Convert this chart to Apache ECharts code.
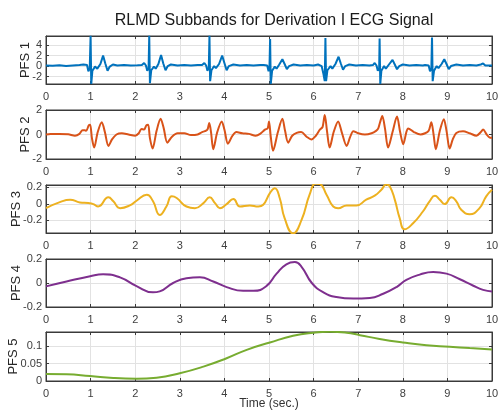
<!DOCTYPE html>
<html>
<head>
<meta charset="utf-8">
<script src="https://cdn.jsdelivr.net/npm/echarts@6/dist/echarts.min.js"></script>
<style>
  html, body { margin: 0; padding: 0; background: #fff; }
  #chart { width: 498px; height: 410px; }
</style>
</head>
<body>
<div id="chart"></div>
<script>
// x ticks (seconds)
var timeTicks = [0, 1, 2, 3, 4, 5, 6, 7, 8, 9, 10];
var panelNames = ['PFS 1', 'PFS 2', 'PFS 3', 'PFS 4', 'PFS 5'];

// PFS 1 - [time, value]
var pfs1 = [
  [0,0.1],[0.15,0.05],[0.3,0.15],[0.45,0.0],[0.6,0.1],[0.75,0.2],
  [0.84,0.3],[0.88,0.6],[0.92,0.2],[0.95,-1.0],[0.98,-0.5],[1.0,5.8],[1.015,-3.44],[1.04,-0.9],[1.1,-0.1],[1.15,-0.5],[1.22,0.4],[1.28,2.0],[1.33,0.5],[1.38,-0.9],[1.43,-0.1],[1.5,0.3],[1.6,0.1],[1.75,0.2],[1.9,0.1],[2.05,0.15],
  [2.15,0.2],[2.2,0.6],[2.24,0.1],[2.27,-0.9],[2.3,-0.4],[2.315,5.8],[2.33,-3.3],[2.36,-0.8],[2.42,-0.1],[2.46,-0.5],[2.52,0.4],[2.58,2.1],[2.63,0.5],[2.68,-0.8],[2.73,0],[2.8,0.3],[2.95,0.1],[3.1,0.2],[3.25,0.1],[3.4,0.2],
  [3.5,0.2],[3.55,0.6],[3.59,0.1],[3.62,-0.9],[3.65,-0.3],[3.665,5.8],[3.68,-2.9],[3.71,-0.8],[3.77,0],[3.81,-0.4],[3.88,0.4],[3.95,2.0],[4.0,0.6],[4.05,-0.8],[4.1,0],[4.2,0.3],[4.35,0.1],[4.5,0.2],[4.65,0.1],[4.8,0.2],
  [4.88,0.2],[4.92,0.5],[4.96,0.1],[4.99,-1.0],[5.01,-0.4],[5.025,5.2],[5.04,-3.44],[5.07,-0.9],[5.13,-0.1],[5.17,-0.5],[5.23,0.3],[5.3,1.3],[5.35,0.4],[5.4,-0.6],[5.45,0],[5.55,0.3],[5.7,0.1],[5.85,0.2],[6.0,0.1],
  [6.1,0.3],[6.14,0.6],[6.18,0],[6.22,-1.5],[6.25,-2.9],[6.265,5.4],[6.28,-2.9],[6.31,-0.8],[6.38,0],[6.42,-0.5],[6.49,0.4],[6.56,1.8],[6.61,0.5],[6.66,-0.7],[6.71,0],[6.8,0.3],[6.95,0.1],[7.1,0.2],[7.25,0.1],
  [7.33,0.2],[7.37,0.6],[7.41,0.1],[7.44,-0.9],[7.47,-0.4],[7.48,5.3],[7.495,-3.44],[7.52,-0.9],[7.58,0],[7.62,-0.5],[7.69,0.3],[7.77,1.2],[7.82,0.3],[7.87,-0.6],[7.92,0],[8.0,0.3],[8.15,0.1],[8.3,0.2],[8.45,0.1],
  [8.5,0.2],[8.54,0.5],[8.58,0.1],[8.61,-1.0],[8.64,-0.5],[8.655,5.5],[8.67,-2.9],[8.7,-0.9],[8.76,0],[8.8,-0.4],[8.87,0.4],[8.93,1.3],[8.98,0.4],[9.03,-0.6],[9.08,0],[9.2,0.3],[9.35,0.1],[9.5,0.2],[9.65,0.1],[9.75,0.3],[9.8,0.5],[9.85,0.1],[10,0.1]
];

// PFS 2
var pfs2 = [
  [0,0],[0.1,0.05],[0.3,0.05],[0.5,0.02],[0.65,-0.1],[0.75,0.05],[0.82,0.35],[0.874,0.35],[0.9,0.3],[0.96,0.75],[0.99,0.8],[1.03,-0.3],[1.08,-1.07],[1.16,0.2],[1.25,1.0],[1.32,0.2],[1.4,-0.93],[1.48,-0.4],[1.58,0],[1.7,0.1],[1.85,0.0],[2.0,-0.1],
  [2.08,0.1],[2.14,0.45],[2.2,0.4],[2.25,0.75],[2.29,0.8],[2.33,-0.3],[2.39,-1.15],[2.48,0.3],[2.57,1.28],[2.64,0.5],[2.72,-0.67],[2.82,-0.2],[2.95,0.1],[3.1,0.1],[3.25,-0.05],[3.4,0],
  [3.5,0.2],[3.56,0.27],[3.62,0.4],[3.66,0.93],[3.7,0.2],[3.75,-1.2],[3.84,0.2],[3.94,1.07],[4.0,0.4],[4.08,-0.75],[4.18,-0.1],[4.27,0.2],[4.4,0.1],[4.55,0.05],[4.7,-0.1],[4.8,0.05],
  [4.91,0.4],[4.97,0.5],[5.0,1.07],[5.04,-0.2],[5.09,-1.33],[5.2,0.2],[5.3,1.28],[5.36,0.3],[5.43,-0.67],[5.52,-0.1],[5.62,0.13],[5.72,0.2],[5.85,-0.2],[5.95,-0.4],[6.05,-0.1],
  [6.14,0.4],[6.2,0.6],[6.25,1.6],[6.3,0.3],[6.36,-1.07],[6.45,0.2],[6.55,1.07],[6.63,0.2],[6.74,-0.93],[6.82,-0.2],[6.89,0.27],[7.0,0.1],[7.15,0],[7.3,0.1],
  [7.4,0.3],[7.45,0.5],[7.49,1.0],[7.54,1.52],[7.6,0.5],[7.67,-1.07],[7.77,0.2],[7.87,1.47],[7.94,0.2],[8.01,-0.8],[8.08,0.2],[8.12,0.5],[8.25,0.2],[8.4,0],[8.5,0.1],
  [8.58,0.3],[8.64,1.0],[8.69,0],[8.74,-1.2],[8.83,0.3],[8.92,1.25],[8.98,0.3],[9.05,-1.15],[9.12,-0.4],[9.2,0.13],[9.35,0.27],[9.5,0.1],[9.65,-0.1],[9.75,0.2],[9.8,0.4],[9.88,0],[9.95,-0.25],[10,-0.27]
];

// PFS 3
var pfs3 = [
  [0,-0.053],[0.31,0.02],[0.54,0.049],[0.76,0.016],[0.95,0.008],[1.06,-0.004],[1.17,-0.033],[1.4,0.078],[1.51,0.03],[1.66,-0.053],[1.88,-0.02],
  [2.03,0.037],[2.26,0.11],[2.4,0.03],[2.55,-0.135],[2.7,-0.033],[2.82,0.09],[2.93,0.07],[3.15,-0.033],[3.34,-0.053],[3.53,0.008],[3.67,0.078],[3.79,0.008],[3.9,-0.053],
  [4.05,-0.004],[4.2,0.057],[4.35,-0.033],[4.57,-0.02],[4.76,-0.033],[4.87,-0.012],[5.02,0.13],[5.13,0.19],[5.24,0.07],[5.35,-0.175],[5.54,-0.36],[5.73,-0.196],[5.91,0.11],
  [6.05,0.245],[6.14,0.24],[6.29,0.11],[6.44,-0.033],[6.55,-0.053],[6.74,-0.02],[6.96,-0.02],[7.18,0.049],[7.37,0.098],[7.52,0.17],[7.63,0.235],[7.71,0.21],[7.82,0.05],[7.93,-0.175],
  [8.04,-0.31],[8.23,-0.237],[8.45,-0.094],[8.6,0.03],[8.72,0.098],[8.83,0.049],[8.94,-0.004],[9.09,0.078],[9.2,0.03],[9.31,-0.073],[9.5,-0.127],[9.72,-0.053],[9.87,0.09],[10,0.17]
];

// PFS 4
var pfs4 = [
  [0,-0.028],[0.46,0.013],[0.99,0.057],[1.28,0.073],[1.66,0.047],[2.03,-0.026],[2.4,-0.078],[2.55,-0.07],[2.85,0],[3.15,0.039],[3.45,0.047],[3.75,0.013],
  [4.05,-0.034],[4.42,-0.065],[4.65,-0.065],[4.94,-0.026],[5.17,0.078],[5.39,0.156],[5.58,0.174],[5.73,0.135],[5.96,0],[6.22,-0.078],[6.51,-0.117],
  [6.89,-0.13],[7.26,-0.125],[7.56,-0.09],[7.86,-0.034],[8.08,0.026],[8.38,0.07],[8.68,0.091],[8.98,0.078],[9.28,0.031],[9.57,-0.021],[9.8,-0.057],[10,-0.07]
];

// PFS 5
var pfs5 = [
  [0,0.02],[0.46,0.019],[0.99,0.014],[1.51,0.0086],[2.03,0.0067],[2.48,0.0095],[3.0,0.022],[3.53,0.041],[4.05,0.065],[4.5,0.089],[5.02,0.11],
  [5.54,0.129],[5.99,0.138],[6.36,0.141],[6.74,0.138],[7.04,0.131],[7.48,0.12],[8.0,0.11],[8.53,0.102],[9.05,0.098],[9.5,0.094],[10,0.09]
];

var seriesData = [pfs1, pfs2, pfs3, pfs4, pfs5];
var colors = ['#0072BD', '#D95319', '#EDB120', '#7E2F8E', '#77AC30'];
var yMin = [-3.44, -2, -0.355, -0.2, 0];
var yMax = [5.77, 2, 0.228, 0.2, 0.14];
var ySplit = [5, 2, 3, 2, 3];
var gridTop = [36, 110, 185, 259, 332];
var gridHeight = [48, 49, 48, 48, 49];
var nameGaps = [14, 14, 23, 23, 26];
var smoothing = [false, 0.3, 0.5, 0.5, 0.5];

var font = 'Liberation Sans, Arial, sans-serif';
var axisColor = '#3a3a3a';
var myChart = echarts.init(document.getElementById('chart'), null, { renderer: 'canvas' });

var grids = [], xAxes = [], yAxes = [], series = [];
for (var i = 0; i < 5; i++) {
  grids.push({
    left: 46, right: 6, top: gridTop[i], height: gridHeight[i],
    containLabel: false, outerBoundsMode: 'none',
    show: true, borderColor: axisColor, borderWidth: 1, backgroundColor: '#fff'
  });
  xAxes.push({
    type: 'value', gridIndex: i, min: 0, max: 10, interval: 1,
    name: i === 4 ? 'Time (sec.)' : '',
    nameLocation: 'middle', nameGap: 17, nameMoveOverlap: false,
    nameTextStyle: { fontFamily: font, fontSize: 12, color: '#333' },
    axisLine: { show: true, onZero: false, lineStyle: { color: axisColor, width: 1 } },
    axisTick: { show: true, inside: true, length: 3, lineStyle: { color: axisColor } },
    axisLabel: {
      margin: 7, fontFamily: font, fontSize: 11, color: '#404040',
      formatter: function (v) { return timeTicks.indexOf(v) >= 0 ? String(v) : ''; }
    },
    splitLine: { show: true, lineStyle: { color: '#e2e2e2', width: 1 } }
  });
  yAxes.push({
    type: 'value', gridIndex: i, min: yMin[i], max: yMax[i], splitNumber: ySplit[i],
    name: panelNames[i], nameLocation: 'middle', nameGap: nameGaps[i], nameMoveOverlap: false,
    nameTextStyle: { fontFamily: font, fontSize: 13, color: '#262626' },
    axisLine: { show: true, onZero: false, lineStyle: { color: axisColor, width: 1 } },
    axisTick: { show: true, inside: true, length: 3, lineStyle: { color: axisColor } },
    axisLabel: {
      margin: 4, fontFamily: font, fontSize: 11, color: '#404040',
      showMinLabel: i === 1 || i === 3 || i === 4,
      showMaxLabel: i === 1 || i === 3
    },
    splitLine: { show: true, lineStyle: { color: '#e2e2e2', width: 1 } }
  });
  series.push({
    type: 'line', xAxisIndex: i, yAxisIndex: i,
    data: seriesData[i], showSymbol: false, smooth: smoothing[i],
    clip: true, animation: false,
    lineStyle: { color: colors[i], width: 2 }
  });
}

// mirror axes on top/right for the box ticks
for (var j = 0; j < 5; j++) {
  xAxes.push({
    type: 'value', gridIndex: j, position: 'top', min: 0, max: 10, interval: 1,
    axisLine: { show: true, onZero: false, lineStyle: { color: axisColor, width: 1 } },
    axisTick: { show: true, inside: true, length: 3, lineStyle: { color: axisColor } },
    axisLabel: { show: false }, splitLine: { show: false }
  });
  yAxes.push({
    type: 'value', gridIndex: j, position: 'right', min: yMin[j], max: yMax[j], splitNumber: ySplit[j],
    axisLine: { show: true, onZero: false, lineStyle: { color: axisColor, width: 1 } },
    axisTick: { show: true, inside: true, length: 3, lineStyle: { color: axisColor } },
    axisLabel: { show: false }, splitLine: { show: false }
  });
}

var option = {
  animation: false,
  title: {
    text: 'RLMD Subbands for Derivation I ECG Signal',
    left: 269, top: 8, textAlign: 'center',
    textStyle: { fontFamily: font, fontSize: 16, fontWeight: 'normal', color: '#1a1a1a' }
  },
  grid: grids,
  xAxis: xAxes,
  yAxis: yAxes,
  series: series
};

myChart.setOption(option);
window.addEventListener('resize', function () {
  myChart.resize();
});
</script>
</body>
</html>
